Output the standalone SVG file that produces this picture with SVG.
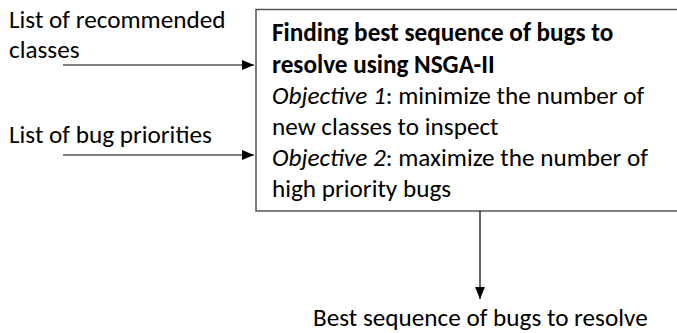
<svg xmlns="http://www.w3.org/2000/svg" width="677" height="333" viewBox="0 0 677 333">
<defs>
<style>
text{font-family:Carlito,Lato,"Liberation Sans",sans-serif;font-size:25.2px;fill:#000}
.b{font-weight:bold}
.i{font-style:italic}
.ln{stroke:#000;stroke-width:1.2;fill:none}
.box{fill:#fff;stroke:#555;stroke-width:1.5}
</style>
<marker id="ah" viewBox="0 0 12 10" refX="12" refY="5" markerWidth="12" markerHeight="10" markerUnits="userSpaceOnUse" orient="auto">
<path d="M0,0 L12,5 L0,10 Z" fill="#000"/>
</marker>
</defs>
<rect width="677" height="333" fill="#fff"/>
<g id="in1"><text x="9" y="28">List of recommended</text><text x="9" y="58">classes</text></g>
<g id="in2"><text x="9" y="143">List of bug priorities</text></g>
<g id="nsga">
<rect class="box" x="256" y="9.5" width="425" height="201.5"/>
<text x="272" y="41" class="b">Finding best sequence of bugs to</text>
<text x="272" y="73" class="b">resolve using NSGA-II</text>
<text x="272" y="104"><tspan class="i">Objective 1</tspan>: minimize the number of</text>
<text x="272" y="135">new classes to inspect</text>
<text x="272" y="166"><tspan class="i">Objective 2</tspan>: maximize the number of</text>
<text x="272" y="197">high priority bugs</text>
</g>
<g id="out"><text x="313" y="326">Best sequence of bugs to resolve</text></g>
<g id="connectors">
<line class="ln" x1="63" y1="65" x2="254" y2="65" marker-end="url(#ah)"/>
<line class="ln" x1="63" y1="155" x2="254" y2="155" marker-end="url(#ah)"/>
<line class="ln" x1="480" y1="211" x2="480" y2="299" marker-end="url(#ah)"/>
</g>
</svg>
